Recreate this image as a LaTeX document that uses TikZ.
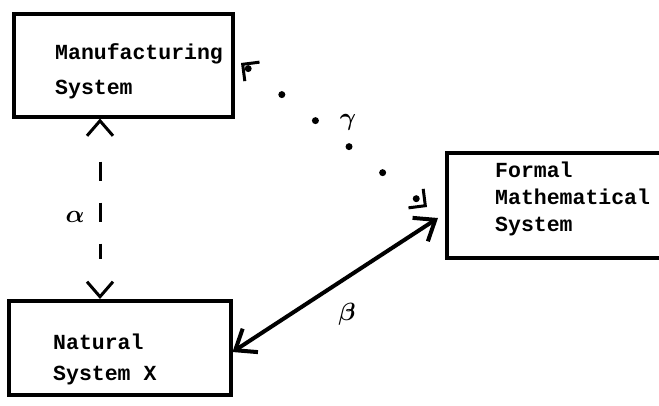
\documentclass[tikz,border=0pt]{standalone}
\usepackage{fontspec}
\setmonofont{Liberation Mono}
\usetikzlibrary{arrows.meta}
\tikzset{
  vtip/.tip={Straight Barb[length=15pt,width=26pt,line width=3pt]},
  btip/.tip={Straight Barb[length=18pt,width=28pt,line width=4pt]},
  gtip/.tip={Straight Barb[length=12pt,width=24pt,line width=3pt]}
}
\begin{document}
\begin{tikzpicture}[x=1pt,y=-1pt,
  sysbox/.style={draw,line width=3.5pt,inner sep=0pt},
  boxtext/.style={anchor=north west,inner sep=0pt,align=left,font=\ttfamily\bfseries\fontsize{21.5}{#1}\selectfont},
  greek/.style={inner sep=0pt,font=\boldmath\fontsize{25}{30}\selectfont},
  tipsonly/.style={line width=3pt,dash pattern=on 0pt off 1000pt}
]
\useasboundingbox (0,0) rectangle (659,405);
\clip (0,0) rectangle (659,405);
% boxes
\node[sysbox,minimum width=219pt,minimum height=103pt,anchor=north west] (mfg) at (12,12) {};
\node[sysbox,minimum width=240pt,minimum height=105pt,anchor=north west] (frm) at (445,151) {};
\node[sysbox,minimum width=222pt,minimum height=94pt,anchor=north west] (nat) at (7,299) {};
% texts
\node[boxtext=35pt] (mfgt) at (55,43) {Manufacturing\\System};
\node[boxtext=27pt] (frmt) at (495,162) {Formal\\Mathematical\\System};
\node[boxtext=31pt] (natt) at (53,334) {Natural\\System X};
% alpha: dashed double arrow
\coordinate (ax) at (100,0);
\draw[tipsonly,vtip-vtip] (mfg.south -| ax) -- (nat.north -| ax);
\draw[line width=3pt,dash pattern=on 19pt off 22pt,shorten <=43pt,shorten >=40pt]
  (mfg.south -| ax) -- (nat.north -| ax);
\node[greek] (alpha) at (75,217) {$\alpha$};
% beta: solid double arrow
\coordinate (b1) at (0,352);
\coordinate (b2) at (0,218);
\draw[line width=4pt,btip-btip]
  (nat.east |- b1) -- ([xshift=-7pt]frm.west |- b2);
\node[greek] (beta) at (347,314) {$\beta$};
% gamma: dotted double arrow
\coordinate (g1) at (241,63);
\coordinate (g2) at (427,207);
\draw[line width=7pt,line cap=round,dash pattern=on 0pt off 42.5pt,dash phase=-48pt,gtip-gtip]
  (g1) -- (g2);
\node[greek] (gamma) at (348,122) {$\gamma$};
\end{tikzpicture}
\end{document}
